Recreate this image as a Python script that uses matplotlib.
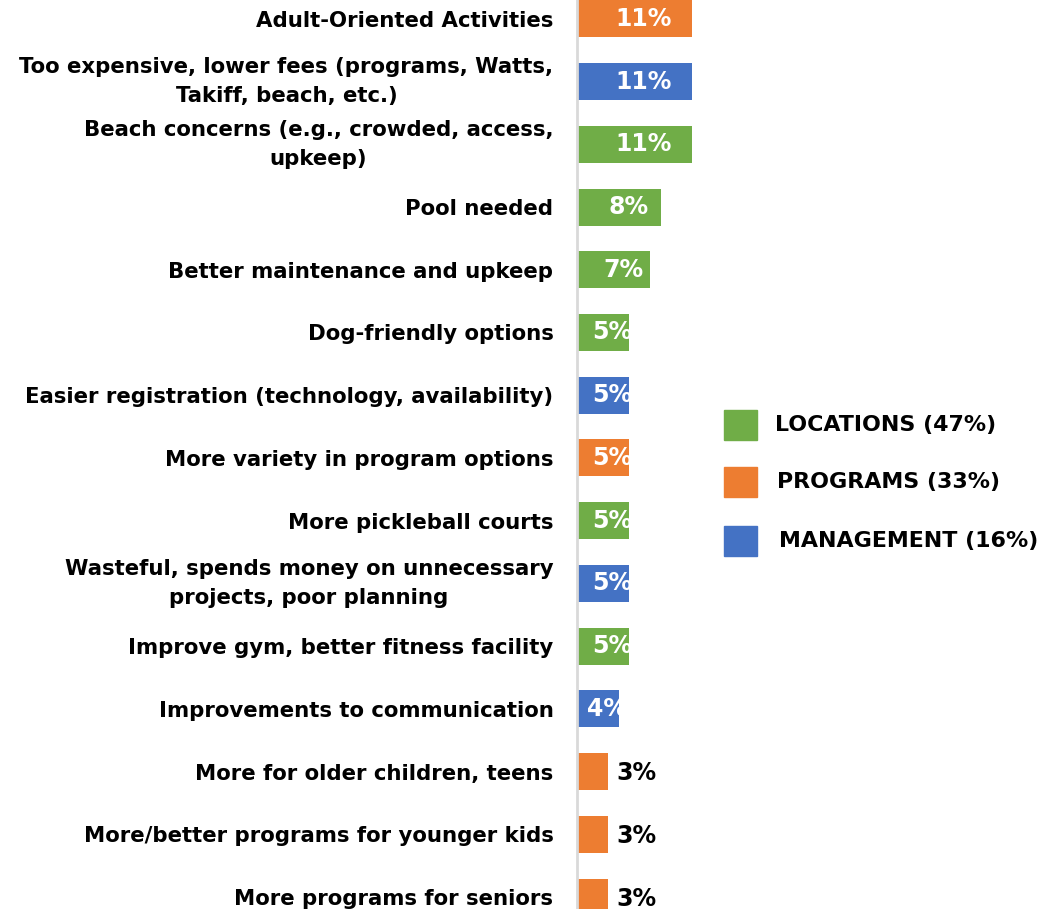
import matplotlib
matplotlib.use("Agg")
import matplotlib.pyplot as plt
from matplotlib.patches import Rectangle

categories = [
    "Adult-Oriented Activities",
    "Too expensive, lower fees (programs, Watts,\nTakiff, beach, etc.)",
    "Beach concerns (e.g., crowded, access,\nupkeep)",
    "Pool needed",
    "Better maintenance and upkeep",
    "Dog-friendly options",
    "Easier registration (technology, availability)",
    "More variety in program options",
    "More pickleball courts",
    "Wasteful, spends money on unnecessary\nprojects, poor planning",
    "Improve gym, better fitness facility",
    "Improvements to communication",
    "More for older children, teens",
    "More/better programs for younger kids",
    "More programs for seniors",
]
values = [11, 11, 11, 8, 7, 5, 5, 5, 5, 5, 5, 4, 3, 3, 3]
groups = ["PROGRAMS", "MANAGEMENT", "LOCATIONS", "LOCATIONS", "LOCATIONS",
          "LOCATIONS", "MANAGEMENT", "PROGRAMS", "LOCATIONS", "MANAGEMENT",
          "LOCATIONS", "MANAGEMENT", "PROGRAMS", "PROGRAMS", "PROGRAMS"]
legend_labels = ["LOCATIONS (47%)", "PROGRAMS (33%)", "MANAGEMENT (16%)"]
legend_groups = ["LOCATIONS", "PROGRAMS", "MANAGEMENT"]

colors = {"LOCATIONS": "#70AD47", "PROGRAMS": "#ED7D31", "MANAGEMENT": "#4472C4"}

W, H = 1056, 909
fig = plt.figure(figsize=(W / 100, H / 100), dpi=100)
x0 = 577
px_per_pct = 10.45
ax = fig.add_axes([x0 / W, 0, (W - x0) / W, 1])
ax.set_xlim(0, (W - x0) / px_per_pct)
ax.set_ylim(14.19, -0.30)

ypos = list(range(len(categories)))
ax.barh(ypos, values, height=0.59, color=[colors[g] for g in groups], zorder=2)

FONT = "DejaVu Sans"
for y, v in zip(ypos, values):
    if v >= 4:
        t = ax.text(v / 2 + 0.9, y, f"{v}%", ha="center", va="center",
                    color="white", fontsize=17, fontweight="bold",
                    family=FONT, zorder=3)
        clip = Rectangle((0, y - 0.295), v, 0.59, transform=ax.transData)
        t.set_clip_path(clip)
    else:
        ax.text(v + 0.75, y + 0.03, f"{v}%", ha="left", va="center",
                color="black", fontsize=17, fontweight="bold", family=FONT)

ax.set_yticks(ypos)
ax.set_yticklabels(categories, fontsize=15.3, fontweight="bold", family=FONT,
                   linespacing=1.55)
for t in ax.get_yticklabels():
    t.set_multialignment("center")
    if "\n" in t.get_text():
        t.set_va("center")
ax.tick_params(axis="y", length=0, pad=17)
ax.set_xticks([])
for s in ["top", "right", "bottom"]:
    ax.spines[s].set_visible(False)
ax.spines["left"].set_color("#d9d9d9")
ax.spines["left"].set_linewidth(2)

# legend (manual)
leg_y = [425, 482, 541]
leg_tx = [775, 777, 779]
for g, lab, yc, tx in zip(legend_groups, legend_labels, leg_y, leg_tx):
    fig.patches.append(Rectangle((724 / W, 1 - (yc + 15) / H), 33 / W, 30 / H,
                                 transform=fig.transFigure, color=colors[g]))
    fig.text(tx / W, 1 - yc / H, lab, ha="left", va="center",
             fontsize=15.9, fontweight="bold", family=FONT)

fig.savefig("out.png", dpi=100)
